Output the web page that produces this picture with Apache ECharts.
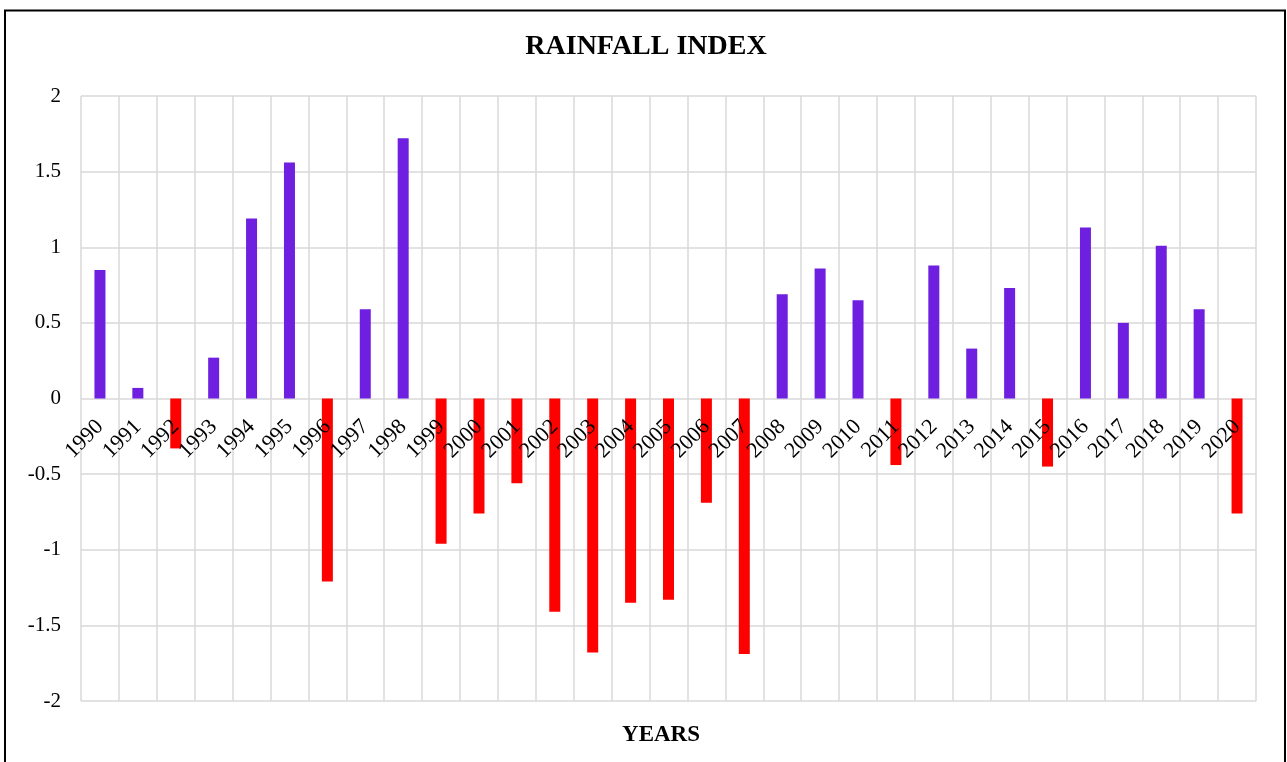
<!DOCTYPE html>
<html>
<head>
<meta charset="utf-8">
<script src="https://cdn.jsdelivr.net/npm/echarts@6/dist/echarts.min.js"></script>
<style>
html,body{margin:0;padding:0;background:#fff;}
#chart{width:1287px;height:762px;}
</style>
</head>
<body>
<div id="chart"></div>
<script>
const years = ['1990','1991','1992','1993','1994','1995','1996','1997','1998','1999',
  '2000','2001','2002','2003','2004','2005','2006','2007','2008','2009',
  '2010','2011','2012','2013','2014','2015','2016','2017','2018','2019','2020'];
const rainfallIndex = [0.85, 0.07, -0.33, 0.27, 1.19, 1.56, -1.21, 0.59, 1.72, -0.96,
  -0.76, -0.56, -1.41, -1.68, -1.35, -1.33, -0.69, -1.69, 0.69, 0.86,
  0.65, -0.44, 0.88, 0.33, 0.73, -0.45, 1.13, 0.50, 1.01, 0.59, -0.76];
const titleText = 'RAINFALL INDEX';
const xAxisTitle = 'YEARS';

const FONT = '"Liberation Serif", "Times New Roman", serif';
const GRID_COLOR = '#d9d9d9';

const chart = echarts.init(document.getElementById('chart'), null, {renderer: 'canvas'});
chart.setOption({
  animation: false,
  backgroundColor: '#ffffff',
  grid: {left: 81, right: 31, top: 96, bottom: 61, containLabel: false},
  xAxis: [{
    // grid-only axis: vertical lines at category boundaries
    type: 'category',
    data: years,
    position: 'bottom',
    axisLine: {show: false, onZero: false},
    axisTick: {show: false},
    axisLabel: {show: false},
    splitLine: {show: true, lineStyle: {color: GRID_COLOR, width: 1.5}}
  }, {
    // label axis positioned at the zero line, drawn above bars
    type: 'category',
    data: years,
    position: 'bottom',
    offset: -302.5,
    z: 5,
    axisLine: {show: false, onZero: false},
    axisTick: {show: false},
    splitLine: {show: false},
    axisLabel: {
      interval: 0,
      rotate: 45,
      margin: 25,
      fontFamily: FONT,
      fontSize: 22,
      color: '#000'
    }
  }],
  yAxis: {
    type: 'value',
    min: -2,
    max: 2,
    interval: 0.5,
    axisLine: {show: false},
    axisTick: {show: false},
    splitLine: {show: true, lineStyle: {color: GRID_COLOR, width: 1.5}},
    axisLabel: {
      margin: 20,
      fontFamily: FONT,
      fontSize: 21,
      color: '#000'
    }
  },
  series: [{
    type: 'bar',
    xAxisIndex: 0,
    data: rainfallIndex,
    barWidth: 11,
    itemStyle: {
      color: function (p) { return p.value >= 0 ? '#6e1fe0' : '#ff0000'; }
    }
  }],
  graphic: [
    {
      type: 'rect',
      shape: {x: 5, y: 10.5, width: 1280, height: 800},
      style: {fill: 'none', stroke: '#000', lineWidth: 2},
      silent: true
    },
    {
      type: 'text',
      x: 646, y: 47,
      style: {text: titleText, font: 'bold 28px ' + FONT, fill: '#000', align: 'center', verticalAlign: 'middle'}
    },
    {
      type: 'text',
      x: 661, y: 735,
      style: {text: xAxisTitle, font: 'bold 23px ' + FONT, fill: '#000', align: 'center', verticalAlign: 'middle'}
    }
  ]
});
</script>
</body>
</html>
